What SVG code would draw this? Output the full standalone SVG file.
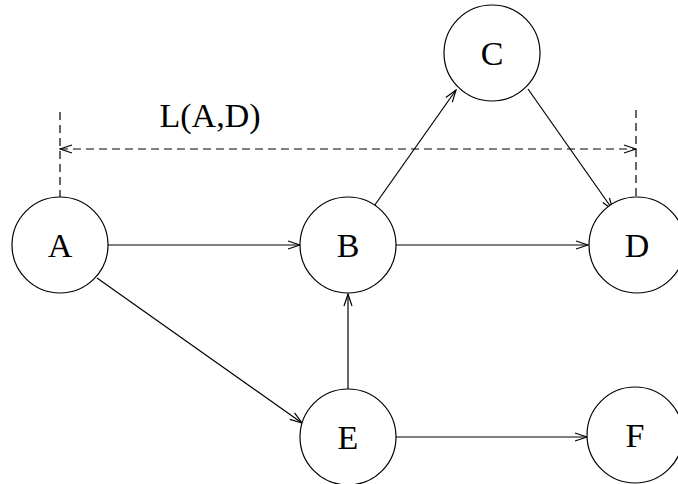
<svg xmlns="http://www.w3.org/2000/svg" width="678" height="484" viewBox="0 0 678 484">
<style>
.node circle{fill:#fff;stroke:#000;stroke-width:1.2}
.node text,.lbl{font-family:"Liberation Serif","Times New Roman",serif;font-size:34px;fill:#000;text-anchor:middle}
.edge{stroke:#000;stroke-width:1.2;fill:none;marker-end:url(#arr)}
.dash{stroke:#000;stroke-width:1.2;fill:none;stroke-dasharray:8 5}
</style>
<defs>
<marker id="arr" viewBox="-13 -6 14 12" refX="0" refY="0" markerWidth="14" markerHeight="12" markerUnits="userSpaceOnUse" orient="auto-start-reverse">
<path d="M-12,-4 L0,0 L-12,4" fill="none" stroke="#000" stroke-width="1.2"/>
</marker>
</defs>
<g id="connectors">
<line class="edge" x1="108" y1="245" x2="300" y2="245"/>
<line class="edge" x1="97" y1="278" x2="302" y2="423"/>
<line class="edge" x1="348" y1="389" x2="348" y2="294"/>
<line class="edge" x1="396" y1="437" x2="587" y2="437"/>
<line class="edge" x1="396" y1="245" x2="588" y2="245"/>
<line class="edge" x1="372" y1="209" x2="456" y2="90"/>
<line class="edge" x1="528" y1="89" x2="613" y2="210"/>
<line class="dash" x1="60" y1="112" x2="60" y2="197"/>
<line class="dash" x1="636" y1="110" x2="636" y2="197"/>
<line class="dash" x1="60" y1="149" x2="636" y2="149" style="marker-start:url(#arr);marker-end:url(#arr)"/>
</g>
<text class="lbl" x="210" y="127">L(A,D)</text>
<g id="A" class="node"><circle cx="60" cy="245" r="48"/><text x="60" y="257">A</text></g>
<g id="B" class="node"><circle cx="348" cy="245" r="48"/><text x="348" y="257">B</text></g>
<g id="C" class="node"><circle cx="492" cy="53" r="48"/><text x="492" y="65">C</text></g>
<g id="D" class="node"><circle cx="637" cy="245" r="48"/><text x="637" y="257">D</text></g>
<g id="E" class="node"><circle cx="348" cy="437" r="48"/><text x="348" y="449">E</text></g>
<g id="F" class="node"><circle cx="635" cy="435" r="48"/><text x="635" y="447">F</text></g>
</svg>
